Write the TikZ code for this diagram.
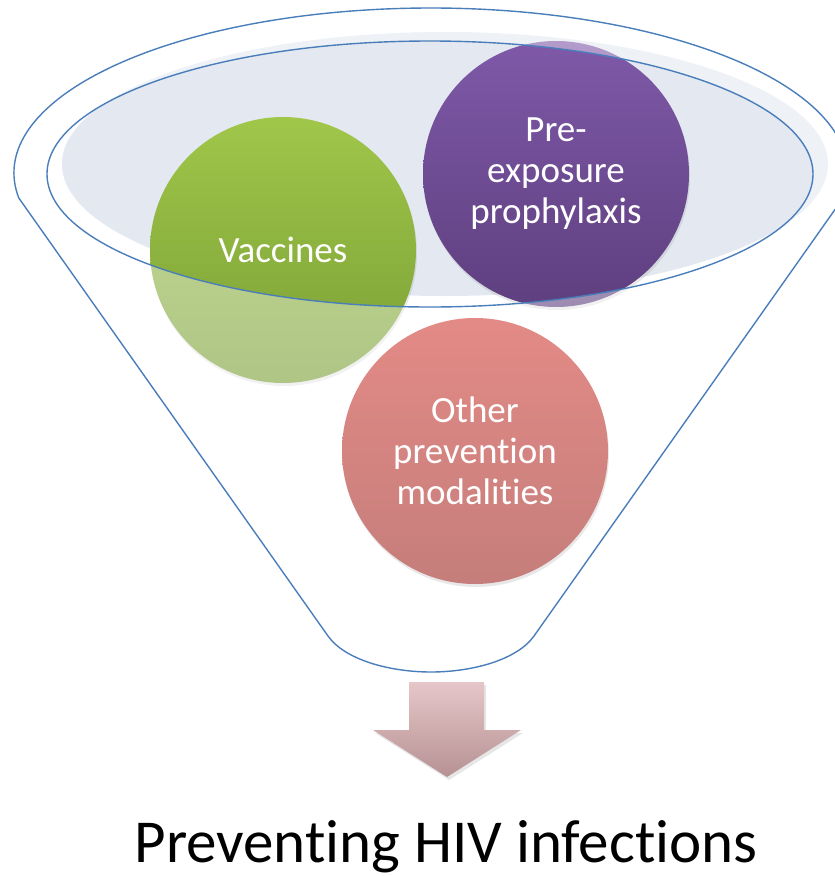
\documentclass[tikz,border=0pt]{standalone}
\usepackage{fontspec}
\setmainfont{Carlito}[RawFeature={-liga;-clig;-calt;-dlig}]
\newcommand\brk{\kern0pt }
\usetikzlibrary{shadows}
\definecolor{rimline}{HTML}{4A7EBB}
\definecolor{rimfill}{HTML}{E3E8F1}
\definecolor{greentop}{HTML}{A0C64A}
\definecolor{greenbot}{HTML}{7A9F35}
\definecolor{purptop}{HTML}{7F59A8}
\definecolor{purpbot}{HTML}{5E3F7F}
\definecolor{pinktop}{HTML}{E38A86}
\definecolor{pinkbot}{HTML}{C57E7B}
\definecolor{arrtop}{HTML}{E6C7C9}
\definecolor{arrbot}{HTML}{B69193}
\tikzset{
  bubble/.style={circle, minimum size=266pt, inner sep=0pt, text=white, align=center,
    font=\fontsize{37}{41}\selectfont,
    drop shadow={opacity=0.18, shadow xshift=1pt, shadow yshift=-3pt}},
  rim/.style={draw=rimline, line width=1.4pt},
}
\begin{document}
\begin{tikzpicture}[x=1pt,y=-1pt]
\useasboundingbox (0,0) rectangle (835,876);
\clip (0,0) rectangle (835,876);
% light rim fill
\fill[rimfill] (445,164) ellipse[x radius=383, y radius=132];
% circles
\node[bubble, top color=greentop, bottom color=greenbot] (vac) at (283,250) {Vaccines};
\node[bubble, top color=purptop, bottom color=purpbot] (prep) at (556,174) {Pre-\\exposure\\prophylaxis};
% faded front of the funnel
\fill[white, opacity=0.4, even odd rule]
  (18.8,198) arc[start angle=171.28, end angle=368.72, x radius=417, y radius=165]
  -- (534,636) .. controls (517,660) and (472,672) .. (431,672)
  .. controls (390,672) and (345,660) .. (328,636) -- cycle
  (430,174) ellipse[x radius=383, y radius=133];
\node[bubble, top color=pinktop, bottom color=pinkbot] (oth) at (475,451) {Other\\prevention\\modalit\brk ies};
% funnel outlines
\draw[rim] (430,174) ellipse[x radius=383, y radius=133];
\draw[rim, line join=round]
  (18.8,198) arc[start angle=171.28, end angle=368.72, x radius=417, y radius=165]
  -- (534,636) .. controls (517,660) and (472,672) .. (431,672)
  .. controls (390,672) and (345,660) .. (328,636) -- cycle;
% down arrow
\shade[top color=arrtop, bottom color=arrbot,
  drop shadow={opacity=0.2, shadow xshift=2pt, shadow yshift=-3pt}]
  (409,682) -- (484,682) -- (484,730) -- (521,730) -- (447,777) -- (373,730) -- (409,730) -- cycle;
% result
\node[anchor=base, font=\fontsize{61}{70}\selectfont, inner sep=0pt] (res) at (446,862) {Prevent\brk ing HIV infect\brk ions};
\end{tikzpicture}
\end{document}
